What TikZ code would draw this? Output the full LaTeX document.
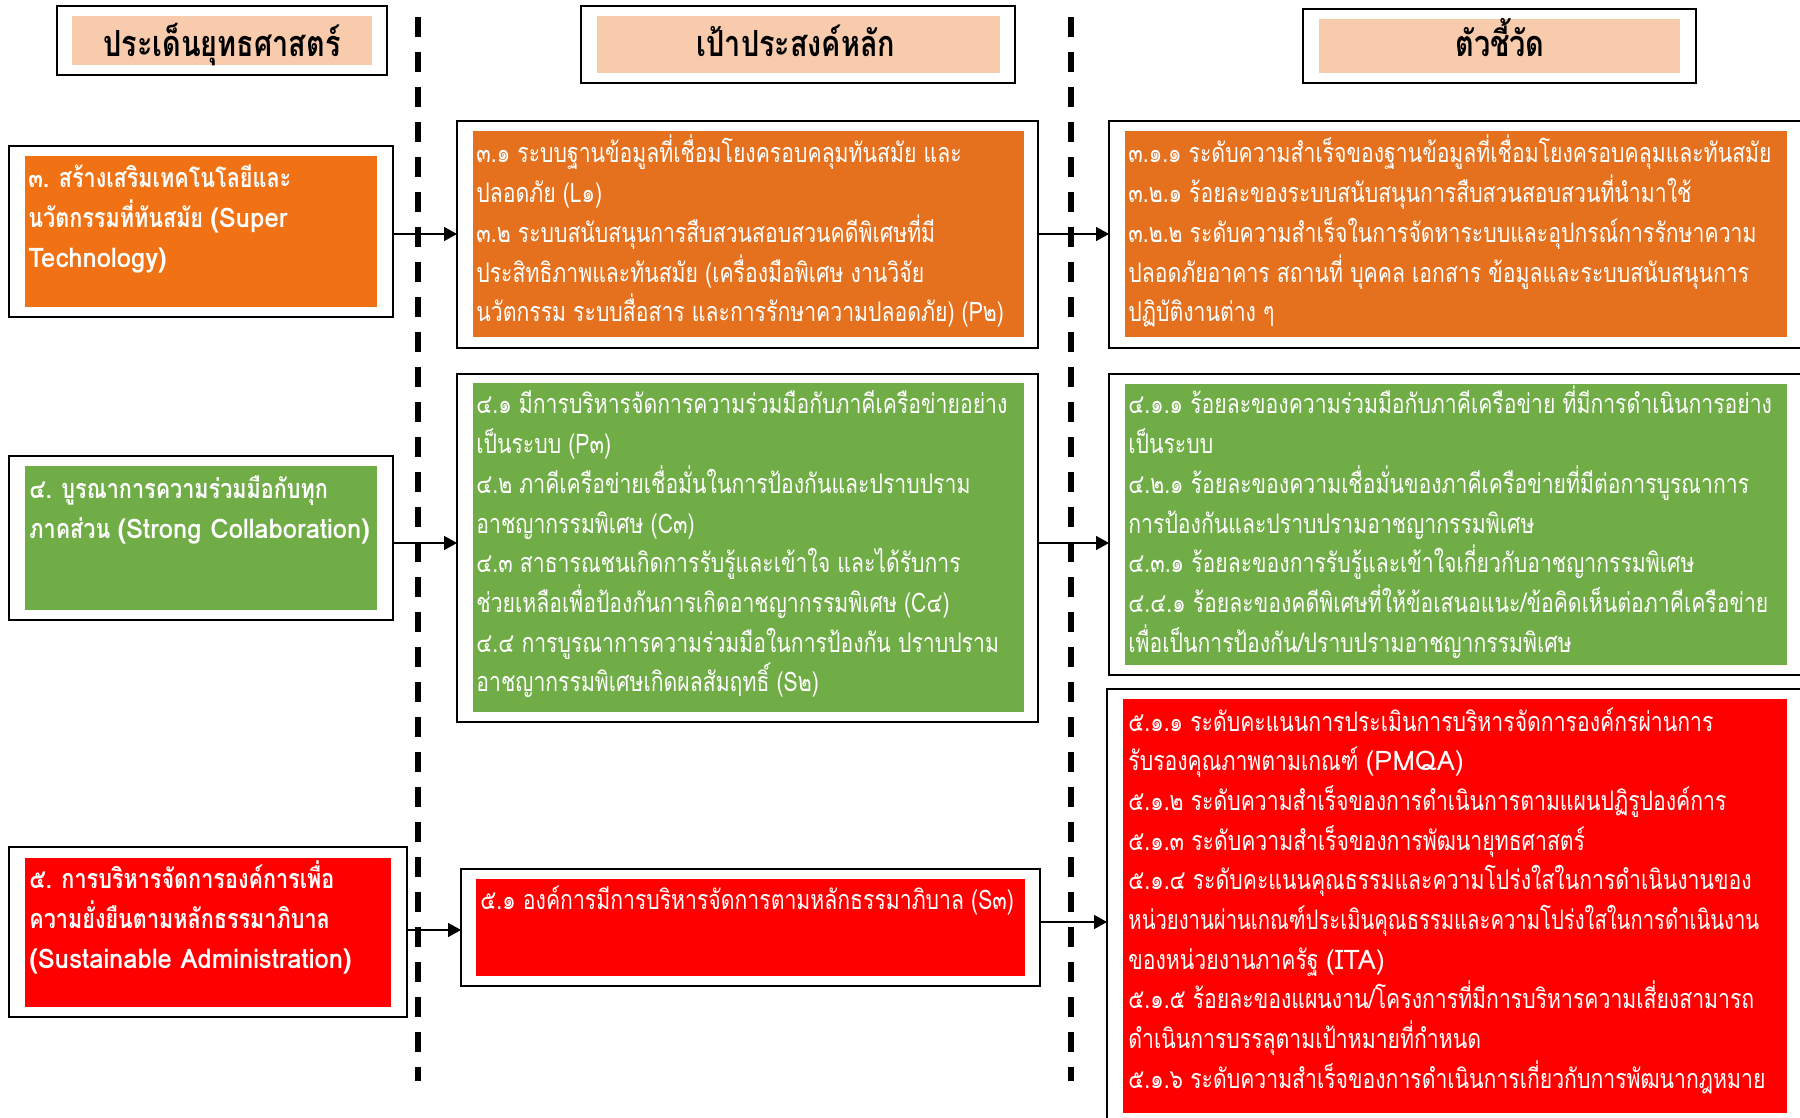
\documentclass[tikz,border=0pt]{standalone}
\usepackage{fontspec}
\usepackage{graphicx}
\newfontfamily\thai[Script=Thai,FakeStretch=0.785]{Loma}
\newfontfamily\thaiL[Script=Thai,FakeStretch=0.8]{Loma}
\newfontfamily\lat[BoldFeatures={FakeStretch=0.95}]{Loma}
\usetikzlibrary{arrows.meta}
\definecolor{peach}{HTML}{F8CBAD}
\definecolor{orangeL}{HTML}{F07214}
\definecolor{orangeM}{HTML}{E5711E}
\definecolor{greenC}{HTML}{70AD47}
\definecolor{redC}{HTML}{FF0000}
\newcommand\tlines[1]{\vtop{\lineskiplimit=-100pt\lineskip=0pt\halign{##\hfil\cr#1\crcr}}}
\newcommand\bx[6]{\node[#6, minimum width={(#4-#2)*0.5pt}, minimum height={(#5-#3)*0.5pt}] (#1) at ({(#2+#4)/2},{(#3+#5)/2}) {};}
\tikzset{
  outerbox/.style={draw=black, line width=0.7pt, fill=white, inner sep=0pt, outer sep=0pt},
  headbox/.style={draw=black, line width=0.9pt, fill=white, inner sep=0pt, outer sep=0pt},
  fillbox/.style={fill=#1, inner sep=0pt, outer sep=0pt},
  body/.style={anchor=base west, inner sep=0pt, text=white, font=\thai\fontsize{13.5}{19.85}\selectfont},
  lefttxt/.style={anchor=base west, inner sep=0pt, text=white, font=\thaiL\bfseries\fontsize{13.5}{20}\selectfont},
  headtxt/.style={anchor=base, inner sep=0pt, text=black, font=\thaiL\bfseries\fontsize{18}{20}\selectfont},
  arr/.style={-{Triangle[length=6.5pt,width=7pt]}, line width=0.8pt},
  divider/.style={line width=2.7pt, dash pattern=on 10pt off 7.5pt}
}
\begin{document}
\begin{tikzpicture}[x=0.5pt,y=-0.5pt]
\useasboundingbox (0,0) rectangle (1800,1118);
\clip (0,0) rectangle (1800,1118);
% dividers
\coordinate (d1t) at (418,17); \coordinate (d1b) at (418,1081);
\coordinate (d2t) at (1071,17); \coordinate (d2b) at (1071,1081);
\draw[divider] (d1t) -- (d1b);
\draw[divider] (d2t) -- (d2b);
% headers
\bx{H1o}{57}{6}{387}{75}{headbox}
\bx{H1i}{72}{16}{372}{65}{fillbox=peach}
\bx{H2o}{581}{6}{1015}{83}{headbox}
\bx{H2i}{597}{16}{1000}{73}{fillbox=peach}
\bx{H3o}{1303}{9}{1696}{83}{headbox}
\bx{H3i}{1319}{19}{1680}{73}{fillbox=peach}
\node[headtxt] (H1t) at (222,57) {ประเด็นยุทธศาสตร์};
\node[headtxt] (H2t) at (796,57) {เป้าประสงค์หลัก};
\node[headtxt] (H3t) at (1500,57) {ตัวชี้วัด};
% row 3
\bx{L3o}{9}{146}{393}{317}{outerbox}
\bx{L3i}{25}{156}{377}{307}{fillbox=orangeL}
\bx{M3o}{457}{121}{1038}{348}{outerbox}
\bx{M3i}{473}{131}{1024}{337}{fillbox=orangeM}
\bx{R3o}{1109}{121}{1812}{348}{outerbox}
\bx{R3i}{1125}{131}{1787}{337}{fillbox=orangeM}
\node[lefttxt] (L3t) at (28,188) {\tlines{๓. สร้างเสริมเทคโนโลยีและ\cr
นวัตกรรมที่ทันสมัย {\lat (Super}\cr
{\lat Technology)}}};
\node[body] (M3t) at (476,163) {\tlines{๓.๑ ระบบฐานข้อมูลที่เชื่อมโยงครอบคลุมทันสมัย และ\cr
ปลอดภัย (L๑)\cr
๓.๒ ระบบสนับสนุนการสืบสวนสอบสวนคดีพิเศษที่มี\cr
ประสิทธิภาพและทันสมัย (เครื่องมือพิเศษ งานวิจัย\cr
นวัตกรรม ระบบสื่อสาร และการรักษาความปลอดภัย) (P๒)}};
\node[body] (R3t) at (1128,163) {\tlines{๓.๑.๑ ระดับความสำเร็จของฐานข้อมูลที่เชื่อมโยงครอบคลุมและทันสมัย\cr
๓.๒.๑ ร้อยละของระบบสนับสนุนการสืบสวนสอบสวนที่นำมาใช้\cr
๓.๒.๒ ระดับความสำเร็จในการจัดหาระบบและอุปกรณ์การรักษาความ\cr
ปลอดภัยอาคาร สถานที่ บุคคล เอกสาร ข้อมูลและระบบสนับสนุนการ\cr
ปฏิบัติงานต่าง ๆ}};
% row 4
\bx{L4o}{9}{456}{393}{620}{outerbox}
\bx{L4i}{25}{466}{377}{610}{fillbox=greenC}
\bx{M4o}{457}{374}{1038}{722}{outerbox}
\bx{M4i}{473}{383}{1024}{712}{fillbox=greenC}
\bx{R4o}{1109}{374}{1812}{675}{outerbox}
\bx{R4i}{1125}{384}{1787}{665}{fillbox=greenC}
\node[lefttxt] (L4t) at (29,498) {\tlines{๔. บูรณาการความร่วมมือกับทุก\cr
ภาคส่วน {\lat (Strong Collaboration)}}};
\node[body] (M4t) at (476,414) {\tlines{๔.๑ มีการบริหารจัดการความร่วมมือกับภาคีเครือข่ายอย่าง\cr
เป็นระบบ (P๓)\cr
๔.๒ ภาคีเครือข่ายเชื่อมั่นในการป้องกันและปราบปราม\cr
อาชญากรรมพิเศษ (C๓)\cr
๔.๓ สาธารณชนเกิดการรับรู้และเข้าใจ และได้รับการ\cr
ช่วยเหลือเพื่อป้องกันการเกิดอาชญากรรมพิเศษ (C๔)\cr
๔.๔ การบูรณาการความร่วมมือในการป้องกัน ปราบปราม\cr
อาชญากรรมพิเศษเกิดผลสัมฤทธิ์ (S๒)}};
\node[body] (R4t) at (1128,414) {\tlines{๔.๑.๑ ร้อยละของความร่วมมือกับภาคีเครือข่าย ที่มีการดำเนินการอย่าง\cr
เป็นระบบ\cr
๔.๒.๑ ร้อยละของความเชื่อมั่นของภาคีเครือข่ายที่มีต่อการบูรณาการ\cr
การป้องกันและปราบปรามอาชญากรรมพิเศษ\cr
๔.๓.๑ ร้อยละของการรับรู้และเข้าใจเกี่ยวกับอาชญากรรมพิเศษ\cr
๔.๔.๑ ร้อยละของคดีพิเศษที่ให้ข้อเสนอแนะ/ข้อคิดเห็นต่อภาคีเครือข่าย\cr
เพื่อเป็นการป้องกัน/ปราบปรามอาชญากรรมพิเศษ}};
% row 5
\bx{L5o}{9}{847}{407}{1017}{outerbox}
\bx{L5i}{25}{858}{391}{1007}{fillbox=redC}
\bx{M5o}{461}{869}{1040}{986}{outerbox}
\bx{M5i}{476}{879}{1025}{976}{fillbox=redC}
\bx{R5o}{1107}{689}{1812}{1130}{outerbox}
\bx{R5i}{1123}{699}{1787}{1113}{fillbox=redC}
\node[lefttxt] (L5t) at (29,888) {\tlines{๕. การบริหารจัดการองค์การเพื่อ\cr
ความยั่งยืนตามหลักธรรมาภิบาล\cr
{\lat (Sustainable Administration)}}};
\node[body] (M5t) at (480,909) {\tlines{๕.๑ องค์การมีการบริหารจัดการตามหลักธรรมาภิบาล (S๓)}};
\node[body] (R5t) at (1128,731) {\tlines{๕.๑.๑ ระดับคะแนนการประเมินการบริหารจัดการองค์กรผ่านการ\cr
รับรองคุณภาพตามเกณฑ์ {\lat (PMQA)}\cr
๕.๑.๒ ระดับความสำเร็จของการดำเนินการตามแผนปฏิรูปองค์การ\cr
๕.๑.๓ ระดับความสำเร็จของการพัฒนายุทธศาสตร์\cr
๕.๑.๔ ระดับคะแนนคุณธรรมและความโปร่งใสในการดำเนินงานของ\cr
\scalebox{0.955}[1]{หน่วยงานผ่านเกณฑ์ประเมินคุณธรรมและความโปร่งใสในการดำเนินงาน}\cr
ของหน่วยงานภาครัฐ {\lat (ITA)}\cr
๕.๑.๕ ร้อยละของแผนงาน/โครงการที่มีการบริหารความเสี่ยงสามารถ\cr
ดำเนินการบรรลุตามเป้าหมายที่กำหนด\cr
๕.๑.๖ ระดับความสำเร็จของการดำเนินการเกี่ยวกับการพัฒนากฎหมาย}};
% arrows
\draw[arr] (L3o.east |- 0,234) -- (M3o.west |- 0,234);
\draw[arr] (M3o.east |- 0,234) -- (R3o.west |- 0,234);
\draw[arr] (L4o.east |- 0,543) -- (M4o.west |- 0,543);
\draw[arr] (M4o.east |- 0,543) -- (R4o.west |- 0,543);
\draw[arr] (L5o.east |- 0,930) -- (M5o.west |- 0,930);
\draw[arr] (M5o.east |- 0,922) -- (R5o.west |- 0,922);
\end{tikzpicture}
\end{document}
